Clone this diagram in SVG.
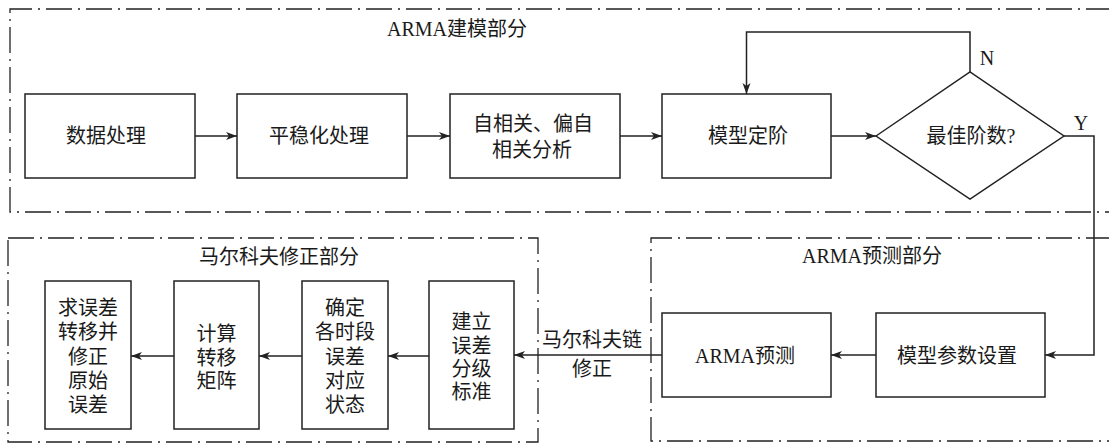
<svg xmlns="http://www.w3.org/2000/svg" width="1109" height="443" viewBox="0 0 1109 443">
<style>
text{font-family:"Liberation Serif","Noto Sans CJK SC",serif;font-size:20px;fill:#1a1a1a;text-anchor:middle;dominant-baseline:central}
.box{fill:#fff;stroke:#222;stroke-width:1.5}
.region{fill:none;stroke:#222;stroke-width:1.3;stroke-dasharray:26 6 2 6}
.conn{fill:none;stroke:#222;stroke-width:1.5}
</style>
<defs>
<marker id="arr" markerUnits="userSpaceOnUse" markerWidth="12" markerHeight="9" refX="11" refY="4" orient="auto">
<path d="M0,0 L11,4 L0,8 L3,4 z" fill="#222"/>
</marker>
</defs>
<g id="regions">
<path class="region" d="M1112,9 H10 V212 H1112"/>
<rect class="region" x="8" y="238" width="530" height="204"/>
<path class="region" d="M1112,238 H651 V441 H1112"/>
<text x="457" y="29">ARMA建模部分</text>
<text x="279" y="257">马尔科夫修正部分</text>
<text x="872" y="256">ARMA预测部分</text>
</g>
<g id="connectors">
<path class="conn" d="M195,136 H237" marker-end="url(#arr)"/>
<path class="conn" d="M407,136 H450" marker-end="url(#arr)"/>
<path class="conn" d="M620,136 H662" marker-end="url(#arr)"/>
<path class="conn" d="M831,136 H876" marker-end="url(#arr)"/>
<path class="conn" d="M970,72 V32 H746.5 V94" marker-end="url(#arr)"/>
<path class="conn" d="M1064,136 H1094 V355 H1045" marker-end="url(#arr)"/>
<path class="conn" d="M876,355 H831" marker-end="url(#arr)"/>
<path class="conn" d="M662,355 H514" marker-end="url(#arr)"/>
<path class="conn" d="M429,356 H388" marker-end="url(#arr)"/>
<path class="conn" d="M302,356 H259" marker-end="url(#arr)"/>
<path class="conn" d="M174,356 H131" marker-end="url(#arr)"/>
<text x="987" y="58">N</text>
<text x="1081" y="123">Y</text>
<text x="592" y="340">马尔科夫链</text>
<text x="592" y="369">修正</text>
</g>
<g id="n1"><rect class="box" x="25" y="94" width="170" height="84"/><text x="106" y="136">数据处理</text></g>
<g id="n2"><rect class="box" x="237" y="94" width="170" height="84"/><text x="319" y="136">平稳化处理</text></g>
<g id="n3"><rect class="box" x="450" y="94" width="170" height="84"/><text x="533" y="124">自相关、偏自</text><text x="532" y="150">相关分析</text></g>
<g id="n4"><rect class="box" x="662" y="94" width="169" height="84"/><text x="748" y="136">模型定阶</text></g>
<g id="n5"><path class="box" d="M876,136 L970,72 L1064,136 L970,199 z"/><text x="971" y="136">最佳阶数?</text></g>
<g id="n6"><rect class="box" x="876" y="313" width="169" height="84"/><text x="957" y="356">模型参数设置</text></g>
<g id="n7"><rect class="box" x="662" y="313" width="169" height="84"/><text x="745" y="356">ARMA预测</text></g>
<g id="n8"><rect class="box" x="429" y="281" width="85" height="148"/><text x="471.5" y="322">建立</text><text x="471.5" y="345.5">误差</text><text x="471.5" y="369">分级</text><text x="471.5" y="392">标准</text></g>
<g id="n9"><rect class="box" x="302" y="281" width="86" height="148"/><text x="345" y="308">确定</text><text x="345" y="332">各时段</text><text x="345" y="356.5">误差</text><text x="345" y="381">对应</text><text x="345" y="405">状态</text></g>
<g id="n10"><rect class="box" x="174" y="281" width="85" height="148"/><text x="216.5" y="334">计算</text><text x="216.5" y="357.5">转移</text><text x="216.5" y="381">矩阵</text></g>
<g id="n11"><rect class="box" x="45" y="281" width="86" height="148"/><text x="88" y="308">求误差</text><text x="88" y="332">转移并</text><text x="88" y="356.5">修正</text><text x="88" y="381">原始</text><text x="88" y="405">误差</text></g>
</svg>
